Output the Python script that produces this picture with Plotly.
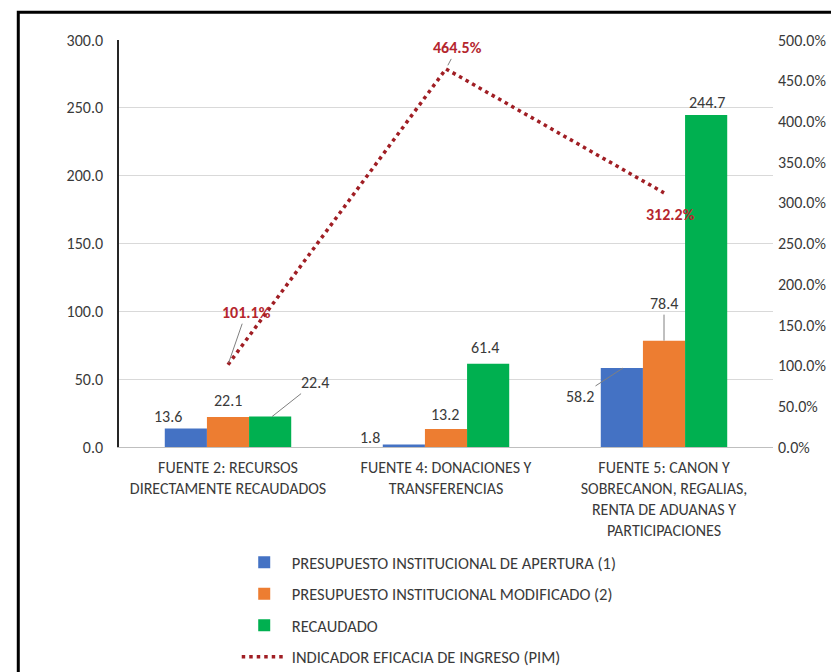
import plotly.graph_objects as go

categories = ["FUENTE 2: RECURSOS<br>DIRECTAMENTE RECAUDADOS",
              "FUENTE 4: DONACIONES Y<br>TRANSFERENCIAS",
              "FUENTE 5: CANON Y<br>SOBRECANON, REGALIAS,<br>RENTA DE ADUANAS Y<br>PARTICIPACIONES"]
pia = [13.6, 1.8, 58.2]
pim = [22.1, 13.2, 78.4]
recaudado = [22.4, 61.4, 244.7]
eficacia = [1.011, 4.645, 3.122]

names = ["PRESUPUESTO INSTITUCIONAL DE APERTURA (1)",
         "PRESUPUESTO INSTITUCIONAL MODIFICADO (2)",
         "RECAUDADO",
         "INDICADOR EFICACIA DE INGRESO (PIM)"]
colors = ["#4472C4", "#ED7D31", "#00B050"]
line_color = "#A01E24"
label_red = "#B5262E"
FONT = "Carlito, Liberation Sans Narrow, Lato, sans-serif"
txt = "#3A3A3A"
FS = 16

fig = go.Figure()
for i, vals in enumerate([pia, pim, recaudado]):
    fig.add_trace(go.Bar(x=categories, y=vals, name=names[i], marker_color=colors[i],
                         marker_line_width=0, legendgroup=f"g{i}"))
fig.add_trace(go.Scatter(x=categories, y=eficacia, name=names[3], yaxis="y2", mode="lines",
                         line=dict(color=line_color, width=3.5, dash="3.5px,4px"),
                         legendgroup="g3"))

ann = []
def lab(xi, y, text, xs, ys, **kw):
    d = dict(x=categories[xi], y=y, text=text, xshift=xs, yshift=ys, showarrow=False,
             font=dict(family=FONT, size=FS, color=txt))
    d.update(kw)
    ann.append(d)

lab(0, pia[0], "13.6", -60, 12)
lab(0, pim[0], "22.1", 0, 17)
lab(1, pia[1], "1.8", -76, 7)
lab(1, pim[1], "13.2", -1, 15)
lab(1, recaudado[1], "61.4", 39, 16)
lab(2, recaudado[2], "244.7", 43, 13)

def leader(xi, y, text, xs, ax, ay, yref="y", color=txt, bold=False, standoff=0):
    ann.append(dict(x=categories[xi], y=y, yref=yref, text=f"<b>{text}</b>" if bold else text,
                    xshift=xs, showarrow=True, arrowhead=0, arrowwidth=1, arrowcolor="#808080",
                    ax=ax, ay=ay, standoff=standoff,
                    font=dict(family=FONT, size=FS, color=color)))

leader(0, recaudado[0], "22.4", 44, 43, -34)
leader(2, pia[2], "58.2", -41, -43, 28)
leader(2, pim[2], "78.4", 0, 0, -37)
leader(0, eficacia[0], "101.1%", 0, 18, -52, yref="y2", color=label_red, bold=True, standoff=2)
leader(1, eficacia[1], "464.5%", 0, 11, -21, yref="y2", color=label_red, bold=True, standoff=4)
ann.append(dict(x=categories[2], y=eficacia[2], yref="y2", text="<b>312.2%</b>", showarrow=False,
                xshift=6, yshift=-22, font=dict(family=FONT, size=FS, color=label_red)))

# the page body adds an 8px offset at top-left, so the figure is 8px smaller
fig.update_layout(
    width=831, height=664,
    margin=dict(l=111, r=66, t=32, b=225, autoexpand=False),
    paper_bgcolor="white", plot_bgcolor="white",
    barmode="group", bargap=0.42, bargroupgap=0,
    font=dict(family=FONT, size=FS, color=txt),
    xaxis=dict(showgrid=False, showline=True, linecolor="#BFBFBF", linewidth=1,
               ticks="", tickfont=dict(family=FONT, size=FS, color=txt),
               ticklabelstandoff=6),
    yaxis=dict(range=[0, 300], tickvals=[0, 50, 100, 150, 200, 250, 300],
               tickformat=".1f", showgrid=True, gridcolor="#D9D9D9", gridwidth=1,
               showline=True, linecolor="#262626", linewidth=1.5, zeroline=False,
               ticks="", ticklabelstandoff=11, tickfont=dict(family=FONT, size=FS, color=txt)),
    yaxis2=dict(range=[0, 5], overlaying="y", side="right", tickvals=[0, 0.5, 1, 1.5, 2, 2.5, 3, 3.5, 4, 4.5, 5],
                tickformat=".1%", showgrid=False, showline=False, zeroline=False,
                ticks="", ticklabelstandoff=4, tickfont=dict(family=FONT, size=FS, color=txt)),
    legend=dict(x=0.180, y=-0.241, xanchor="left", yanchor="top", traceorder="grouped",
                tracegroupgap=7, font=dict(family=FONT, size=16.5, color=txt),
                bgcolor="rgba(0,0,0,0)", itemwidth=45),
    showlegend=True,
    annotations=ann,
    shapes=[dict(type="rect", xref="paper", yref="paper",
                 x0=-0.154, x1=1.12, y0=-0.6, y1=1.0684,
                 line=dict(color="black", width=3), fillcolor="rgba(0,0,0,0)")],
)

fig.write_html("out.html")
